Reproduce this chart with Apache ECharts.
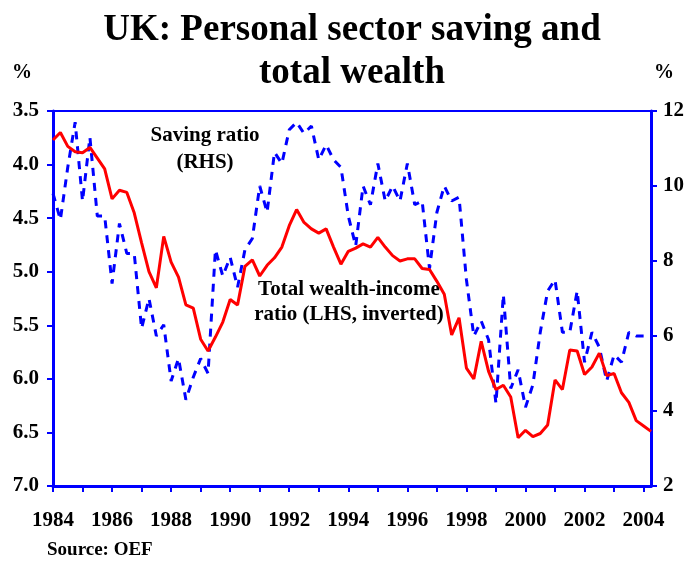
<!DOCTYPE html>
<html>
<head>
<meta charset="utf-8">
<script src="https://cdn.jsdelivr.net/npm/echarts@6/dist/echarts.min.js"></script>
<style>
  html, body { margin: 0; padding: 0; background: #fff; }
  #main { width: 688px; height: 561px; }
</style>
</head>
<body>
<div id="main"></div>
<script>
var myChart = echarts.init(document.getElementById('main'));

// quarterly, 1984 Q1 .. 2004 Q2
var startYear = 1984;
var quarters = [];
for (var i = 0; i < 82; i++) {
  quarters.push((startYear + Math.floor(i / 4)) + ' Q' + (i % 4 + 1));
}

// total wealth-income ratio (LHS, inverted)
var wealthRatio = [
  3.77, 3.70, 3.83, 3.88, 3.89, 3.84, 3.94, 4.04,
  4.32, 4.24, 4.26, 4.45, 4.73, 5.00, 5.15, 4.67,
  4.91, 5.05, 5.31, 5.34, 5.63, 5.74, 5.61, 5.47,
  5.26, 5.31, 4.95, 4.89, 5.04, 4.94, 4.87, 4.77,
  4.57, 4.42, 4.54, 4.60, 4.64, 4.60, 4.77, 4.93,
  4.81, 4.78, 4.74, 4.77, 4.68, 4.77, 4.85, 4.90,
  4.88, 4.88, 4.97, 4.98, 5.09, 5.21, 5.59, 5.43,
  5.90, 6.00, 5.65, 5.93, 6.10, 6.06, 6.17, 6.55,
  6.48, 6.54, 6.51, 6.43, 6.01, 6.10, 5.73, 5.74,
  5.96, 5.89, 5.76, 5.97, 5.95, 6.13, 6.22, 6.39,
  6.44, 6.49
];

// saving ratio (RHS)
var savingRatio = [
  9.8, 9.1, 10.5, 11.7, 9.6, 11.3, 9.2, 9.2,
  7.4, 9.0, 8.2, 8.2, 6.2, 7.0, 6.0, 6.3,
  4.8, 5.4, 4.3, 4.9, 5.4, 5.0, 8.3, 7.6,
  8.1, 7.3, 8.3, 8.6, 10.0, 9.3, 10.9, 10.6,
  11.5, 11.7, 11.4, 11.6, 10.7, 11.1, 10.7, 10.5,
  9.2, 8.4, 10.0, 9.5, 10.6, 9.6, 10.0, 9.6,
  10.6, 9.5, 9.6, 7.8, 9.3, 10.0, 9.6, 9.7,
  7.5, 6.0, 6.4, 5.9, 4.2, 7.1, 4.6, 5.1,
  4.1, 4.7, 6.1, 7.2, 7.5, 6.1, 6.1, 7.2,
  5.3, 6.1, 5.7, 4.8, 5.5, 5.3, 6.1, 6.0,
  6.0, 6.0
];

var leftTicks = { min: 3.5, max: 7.0, step: 0.5 };
var rightTicks = { min: 2, max: 12, step: 2 };

var serif = '"Liberation Serif", "Times New Roman", serif';
var blue = '#0000ff';

option = {
  animation: false,
  backgroundColor: '#fff',
  title: {
    text: 'UK: Personal sector saving and\ntotal wealth',
    left: 347,
    top: 4,
    textAlign: 'center',
    textStyle: {
      fontFamily: serif,
      fontWeight: 'bold',
      fontSize: 37,
      lineHeight: 43,
      color: '#000'
    }
  },
  grid: {
    left: 53,
    right: 37,
    top: 111,
    bottom: 75,
    show: true,
    borderColor: blue,
    borderWidth: 2
  },
  xAxis: {
    type: 'category',
    boundaryGap: false,
    data: quarters,
    axisLine: { lineStyle: { color: blue, width: 3 } },
    axisTick: {
      interval: function (idx) { return idx % 4 === 0; },
      length: 6,
      lineStyle: { color: blue, width: 2 }
    },
    axisLabel: {
      interval: function (idx) { return idx % 8 === 0; },
      formatter: function (v) { return v.slice(0, 4); },
      margin: 24,
      fontFamily: serif,
      fontWeight: 'bold',
      fontSize: 21,
      color: '#000'
    },
    splitLine: { show: false }
  },
  yAxis: [
    {
      type: 'value',
      inverse: true,
      min: leftTicks.min,
      max: leftTicks.max,
      interval: leftTicks.step,
      axisLine: { show: true, lineStyle: { color: blue, width: 3 } },
      axisTick: { show: true, length: 6, lineStyle: { color: blue, width: 2 } },
      axisLabel: {
        formatter: function (v) { return v.toFixed(1); },
        margin: 14,
        fontFamily: serif,
        fontWeight: 'bold',
        fontSize: 21,
        color: '#000'
      },
      splitLine: { show: false }
    },
    {
      type: 'value',
      position: 'right',
      min: rightTicks.min,
      max: rightTicks.max,
      interval: rightTicks.step,
      axisLine: { show: true, lineStyle: { color: blue, width: 3 } },
      axisTick: { show: true, length: 6, lineStyle: { color: blue, width: 2 } },
      axisLabel: {
        margin: 12,
        fontFamily: serif,
        fontWeight: 'bold',
        fontSize: 21,
        color: '#000'
      },
      splitLine: { show: false }
    }
  ],
  graphic: [
    { type: 'text', left: 12, top: 63, style: { text: '%', font: 'bold 20px ' + serif, fill: '#000' } },
    { type: 'text', left: 654, top: 63, style: { text: '%', font: 'bold 20px ' + serif, fill: '#000' } },
    { type: 'text', left: 47, top: 541, style: { text: 'Source: OEF', font: 'bold 19px ' + serif, fill: '#000' } },
    {
      type: 'text', x: 205, y: 122,
      style: { text: 'Saving ratio\n(RHS)', font: 'bold 21px ' + serif, fill: '#000', align: 'center', lineHeight: 27 }
    },
    {
      type: 'text', x: 349, y: 277,
      style: { text: 'Total wealth-income\nratio (LHS, inverted)', font: 'bold 21px ' + serif, fill: '#000', align: 'center', lineHeight: 25 }
    }
  ],
  series: [
    {
      name: 'Saving ratio',
      type: 'line',
      yAxisIndex: 1,
      data: savingRatio,
      symbol: 'none',
      lineStyle: { color: blue, width: 3, type: [8, 7] },
      z: 2
    },
    {
      name: 'Total wealth-income ratio',
      type: 'line',
      yAxisIndex: 0,
      data: wealthRatio,
      symbol: 'none',
      lineStyle: { color: '#ff0000', width: 3 },
      z: 3
    }
  ]
};
myChart.setOption(option);
window.onresize = function () {
  myChart.resize();
};
</script>
</body>
</html>
